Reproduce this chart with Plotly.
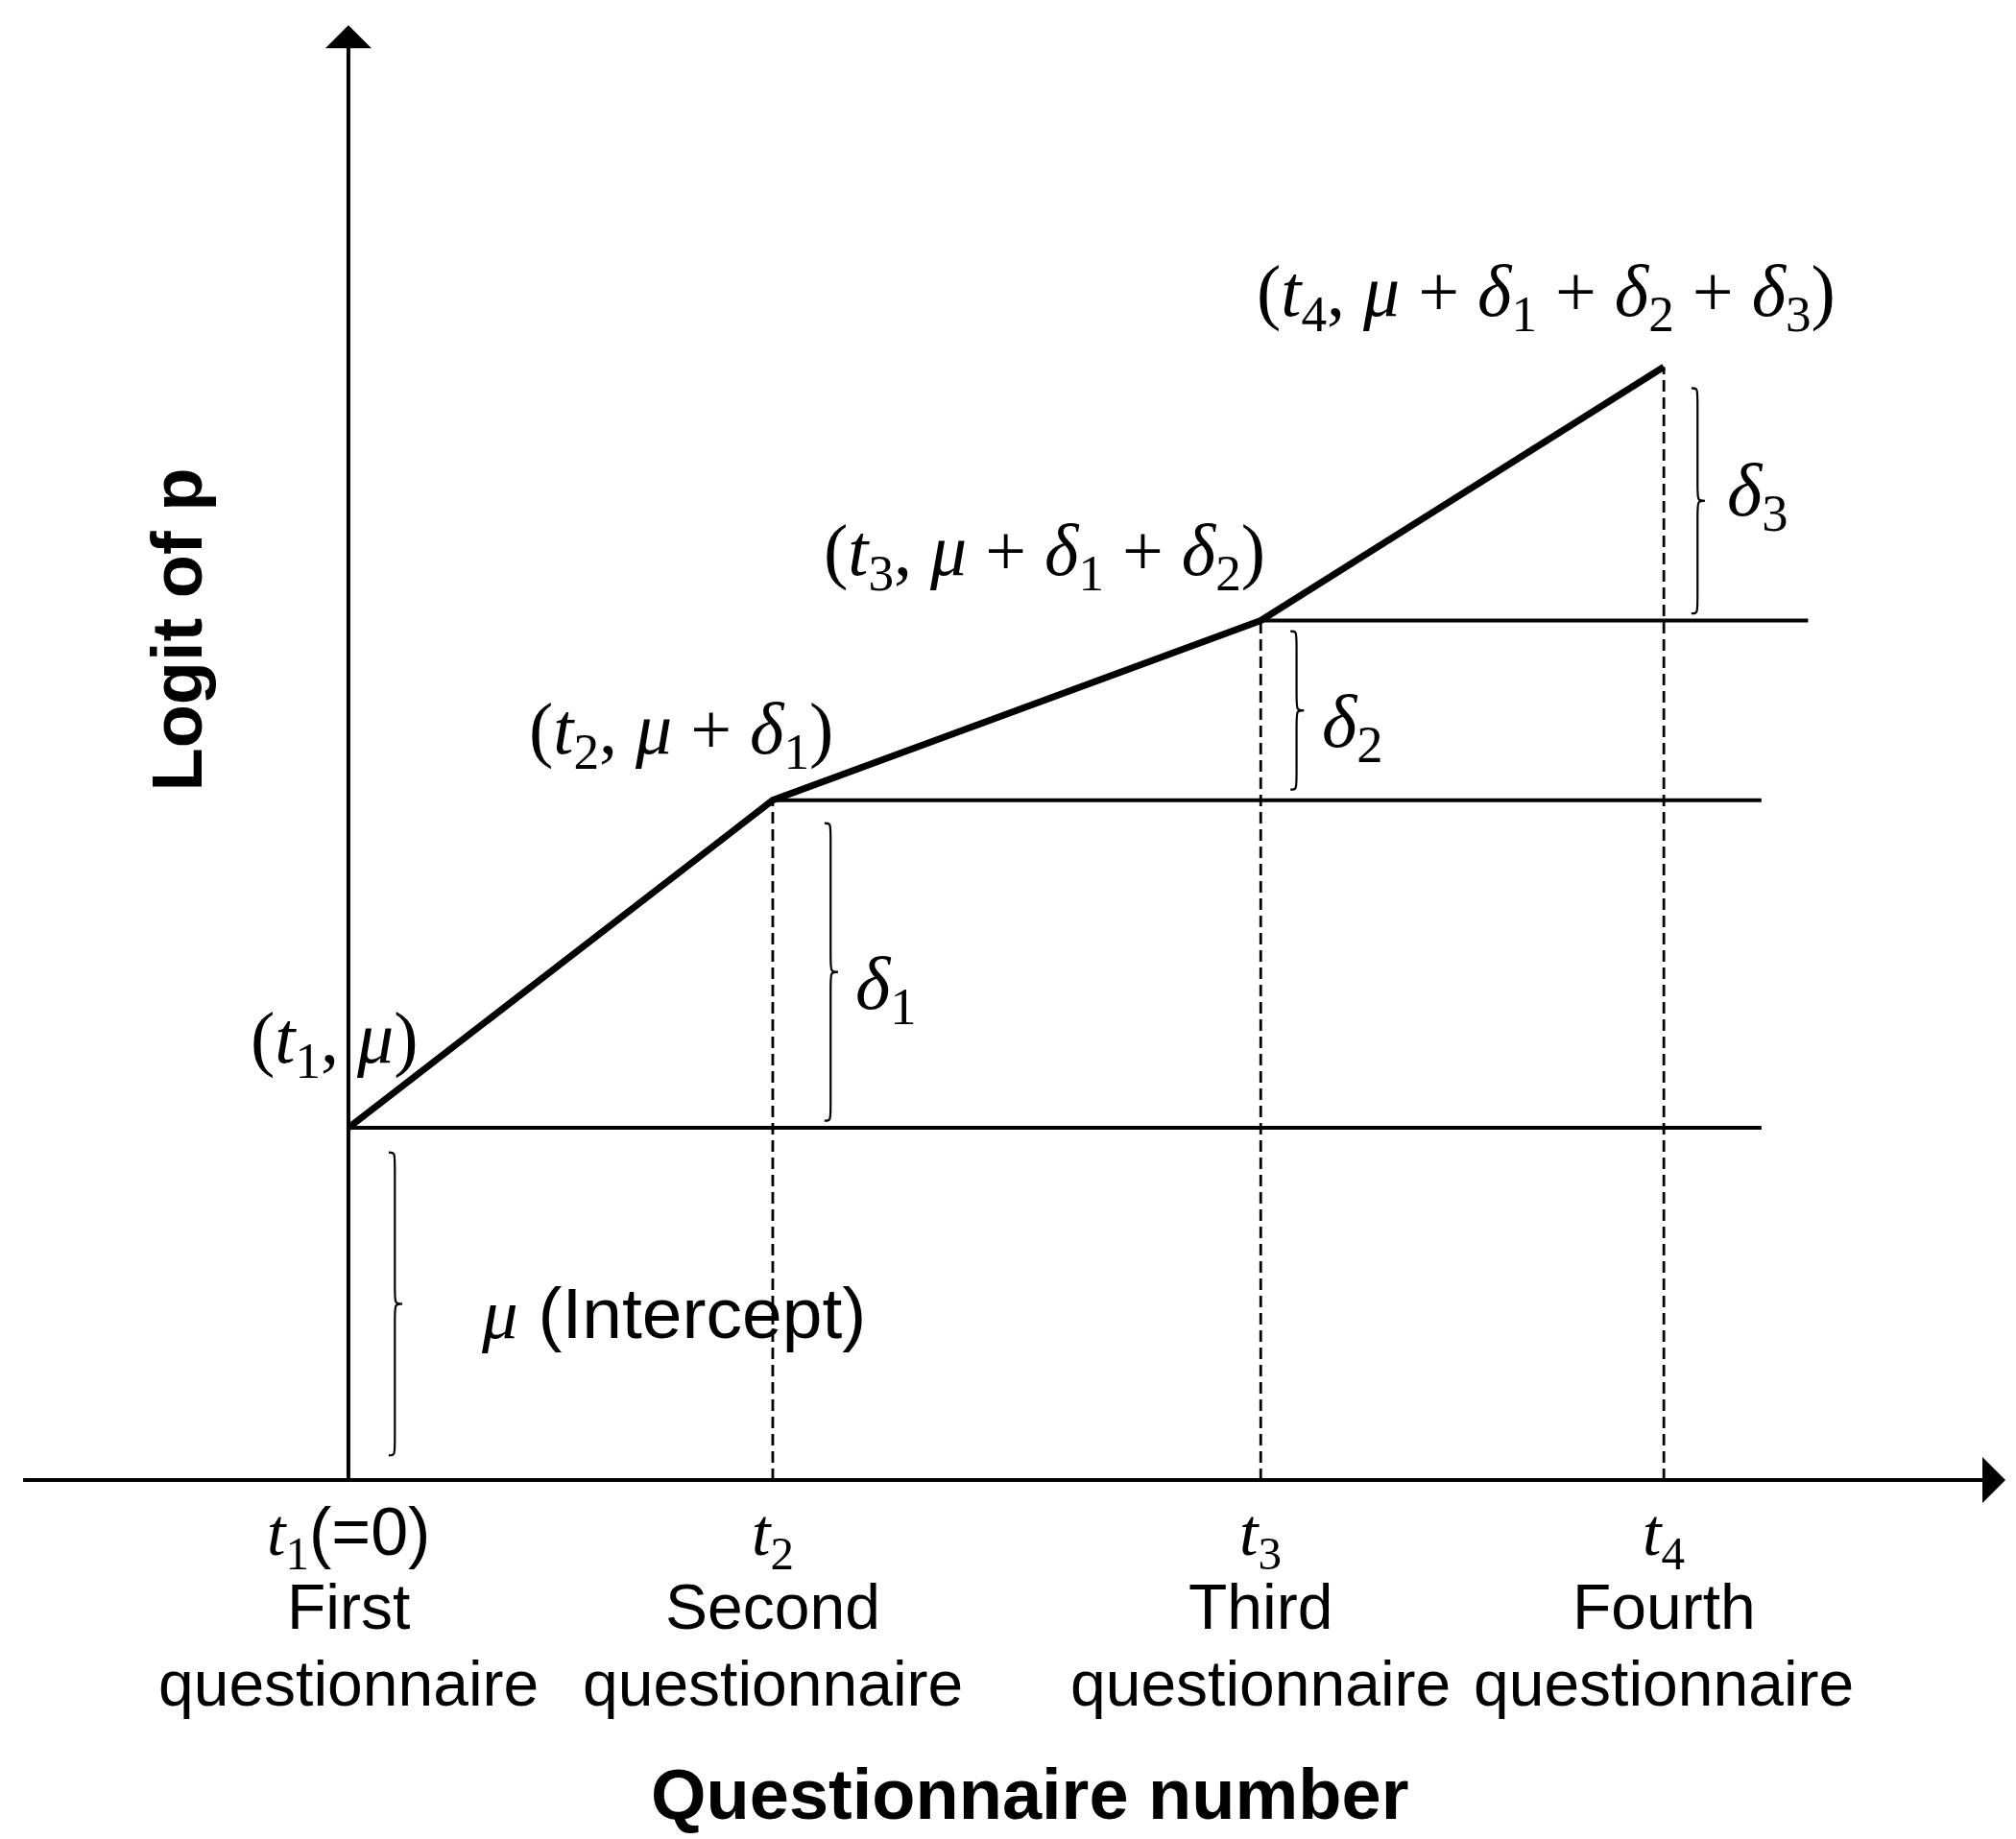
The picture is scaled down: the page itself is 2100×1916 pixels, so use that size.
import plotly.graph_objects as go

# questionnaire occasions and the logit of p reached at each one
t_pos = [0, 1.0, 2.15, 3.1]
logit_p = [1.0, 1.93, 2.44, 3.16]

t_ticks = ["<i>t</i><sub>1</sub>", "<i>t</i><sub>2</sub>", "<i>t</i><sub>3</sub>", "<i>t</i><sub>4</sub>"]
ordinals = ["First", "Second", "Third", "Fourth"]
point_labels = [
    "(<i>t</i><sub>1</sub>, <i>μ</i>)",
    "(<i>t</i><sub>2</sub>, <i>μ</i> + <i>δ</i><sub>1</sub>)",
    "(<i>t</i><sub>3</sub>, <i>μ</i> + <i>δ</i><sub>1</sub> + <i>δ</i><sub>2</sub>)",
    "(<i>t</i><sub>4</sub>, <i>μ</i> + <i>δ</i><sub>1</sub> + <i>δ</i><sub>2</sub> + <i>δ</i><sub>3</sub>)",
]
step_labels = ["<i>δ</i><sub>1</sub>", "<i>δ</i><sub>2</sub>", "<i>δ</i><sub>3</sub>"]

SANS = "Liberation Sans, Arial, sans-serif"
SERIF = "Liberation Serif, Times New Roman, serif"

level_end = [3.33, 3.33, 3.44]

fig = go.Figure()

# horizontal reference levels
for i in range(3):
    fig.add_trace(go.Scatter(x=[t_pos[i], level_end[i]], y=[logit_p[i], logit_p[i]],
                             mode="lines", line=dict(color="black", width=4),
                             hoverinfo="skip"))

# dashed drops to the time axis
for i in range(1, 4):
    fig.add_trace(go.Scatter(x=[t_pos[i], t_pos[i]], y=[0, logit_p[i]], mode="lines",
                             line=dict(color="black", width=2.8, dash="12px,6px"),
                             hoverinfo="skip"))

# piecewise linear logit
fig.add_trace(go.Scatter(x=t_pos, y=logit_p, mode="lines",
                         line=dict(color="black", width=7), hoverinfo="skip"))


def brace(x0, ylo, yhi, w=0.032, r=0.05):
    ym = (ylo + yhi) / 2
    xs = x0 + w * 0.45
    xt = x0 + w
    return (f"M{x0},{yhi} C{xs},{yhi} {xs},{yhi} {xs},{yhi - r} "
            f"L{xs},{ym + r} C{xs},{ym} {xs},{ym} {xt},{ym} "
            f"C{xs},{ym} {xs},{ym} {xs},{ym - r} "
            f"L{xs},{ylo + r} C{xs},{ylo} {xs},{ylo} {x0},{ylo}")


bounds = [0] + logit_p
brace_dx = [0.095, 0.122, 0.07, 0.065]
brace_gap = [(0.07, 0.07), (0.02, 0.065), (0.03, 0.03), (0.02, 0.06)]
for i in range(4):
    fig.add_shape(type="path",
                  path=brace(t_pos[i] + brace_dx[i], bounds[i] + brace_gap[i][0],
                             bounds[i + 1] - brace_gap[i][1]),
                  line=dict(color="black", width=2.2))

# axes with arrow heads
fig.add_annotation(x=3.905, y=0, ax=-0.77, ay=0, xref="x", yref="y", axref="x", ayref="y",
                   text="", showarrow=True, arrowhead=1, arrowsize=2.0, arrowwidth=4,
                   arrowcolor="black")
fig.add_annotation(x=0, y=4.13, ax=0, ay=0, xref="x", yref="y", axref="x", ayref="y",
                   text="", showarrow=True, arrowhead=1, arrowsize=2.0, arrowwidth=4,
                   arrowcolor="black")

# point labels
shifts = [(-14, 88), (-95, 69), (-225, 68), (-123, 73)]
for i in range(4):
    fig.add_annotation(x=t_pos[i], y=logit_p[i], xref="x", yref="y", text=point_labels[i],
                       showarrow=False, xshift=shifts[i][0], yshift=shifts[i][1],
                       font=dict(family=SERIF, size=76, color="black"))

# step sizes
step_dx = [0.19, 0.14, 0.145]
step_dy = [-0.07, -0.045, -0.005]
for i in range(3):
    fig.add_annotation(x=t_pos[i + 1] + step_dx[i],
                       y=(logit_p[i] + logit_p[i + 1]) / 2 + step_dy[i],
                       xref="x", yref="y", text=step_labels[i], showarrow=False,
                       xanchor="left", font=dict(family=SERIF, size=78, color="black"))

fig.add_annotation(x=t_pos[0] + 0.308, y=logit_p[0] / 2 - 0.027, xref="x", yref="y",
                   text=f"<span style='font-family:{SERIF}'><i>μ</i></span> (Intercept)",
                   showarrow=False, xanchor="left",
                   font=dict(family=SANS, size=75, color="black"))

# tick labels under the time axis
for i in range(4):
    first = t_ticks[i]
    if i == 0:
        first += f"<span style='font-family:{SANS}'>(=0)</span>"
    fig.add_annotation(x=t_pos[i], y=0, xref="x", yref="y", text=first, showarrow=False,
                       yshift=-60, font=dict(family=SERIF, size=70, color="black"))
    fig.add_annotation(x=t_pos[i], y=0, xref="x", yref="y", text=ordinals[i], showarrow=False,
                       yshift=-132, font=dict(family=SANS, size=66, color="black"))
    fig.add_annotation(x=t_pos[i], y=0, xref="x", yref="y", text="questionnaire",
                       showarrow=False, yshift=-212,
                       font=dict(family=SANS, size=66, color="black"))

# axis titles
fig.add_annotation(x=0.507, y=0.006, xref="paper", yref="paper",
                   text="<b>Questionnaire number</b>", showarrow=False,
                   font=dict(family=SANS, size=74, color="black"))
fig.add_annotation(x=t_pos[0], y=0.662, xref="x", yref="paper", xshift=-178, textangle=-90,
                   text="<b>Logit of p</b>", showarrow=False,
                   font=dict(family=SANS, size=74, color="black"))

fig.update_xaxes(range=[-0.803, 3.948], visible=False)
fig.update_yaxes(range=[-1.041, 4.180], visible=False)
fig.update_layout(width=2100, height=1916, margin=dict(l=0, r=0, t=0, b=0),
                  plot_bgcolor="white", paper_bgcolor="white", showlegend=False)

fig.write_html("out.html", config={"displayModeBar": False})
